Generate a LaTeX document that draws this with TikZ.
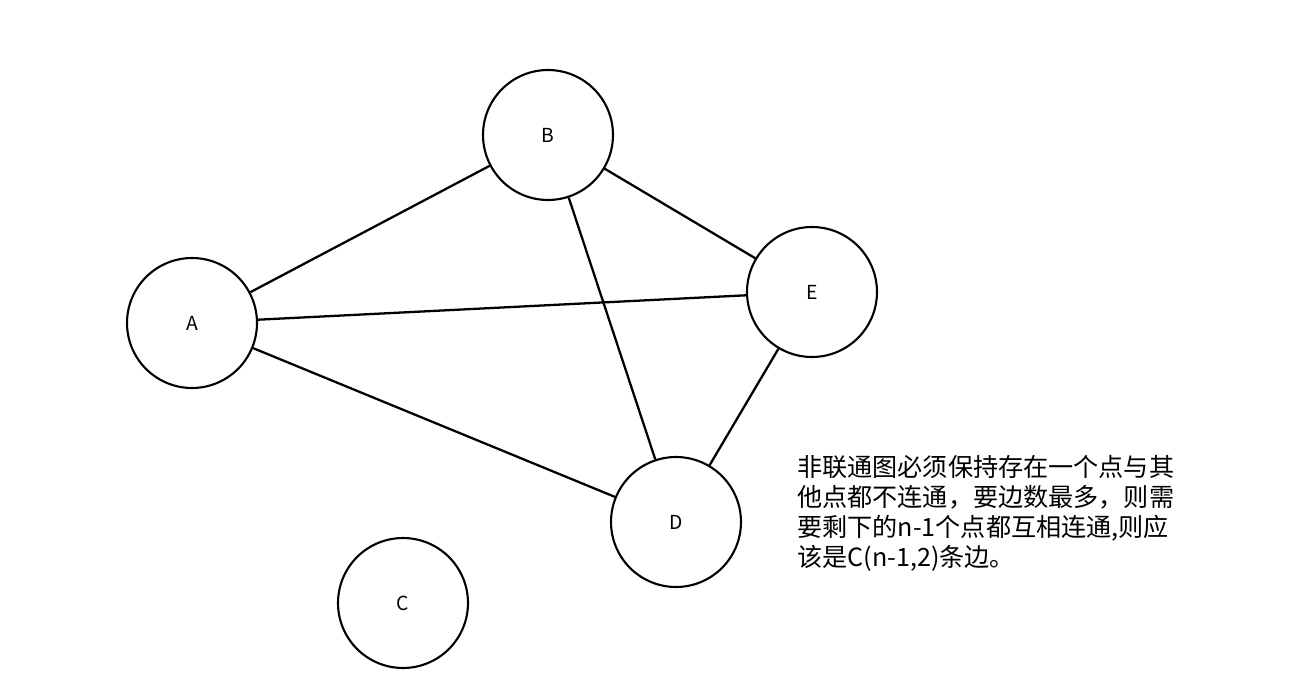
\documentclass[tikz,border=0pt]{standalone}
\usepackage{fontspec}
\newfontfamily\cjk{Noto Sans CJK SC}
\usepackage{tikz}
\usetikzlibrary{positioning}

\begin{document}
\begin{tikzpicture}[
  x=0.02cm, y=-0.02cm,
  vertex/.style={circle, draw, line width=1.2pt, minimum size=2.6cm, inner sep=0pt, font=\cjk\fontsize{11}{13}\selectfont},
  link/.style={draw, line width=1.3pt}
]
\useasboundingbox (0,0) rectangle (1289,693);

\node[vertex] (A) at (192, 323) {A};
\node[vertex] (B) at (548, 135) {B};
\node[vertex] (E) at (812, 292) {E};
\node[vertex] (D) at (676, 522) {D};
\node[vertex] (C) at (403, 603) {C};

\draw[link] (A) -- (B);
\draw[link] (A) -- (E);
\draw[link] (A) -- (D);
\draw[link] (B) -- (E);
\draw[link] (B) -- (D);
\draw[link] (E) -- (D);

\node[anchor=north west, inner sep=0pt, align=left, font=\cjk\fontsize{14.3}{17}\selectfont] (note) at (797, 455)
  {非联通图必须保持存在一个点与其\\他点都不连通，要边数最多，则需\\要剩下的n-1个点都互相连通,则应\\该是C(n-1,2)条边。};

\end{tikzpicture}
\end{document}
